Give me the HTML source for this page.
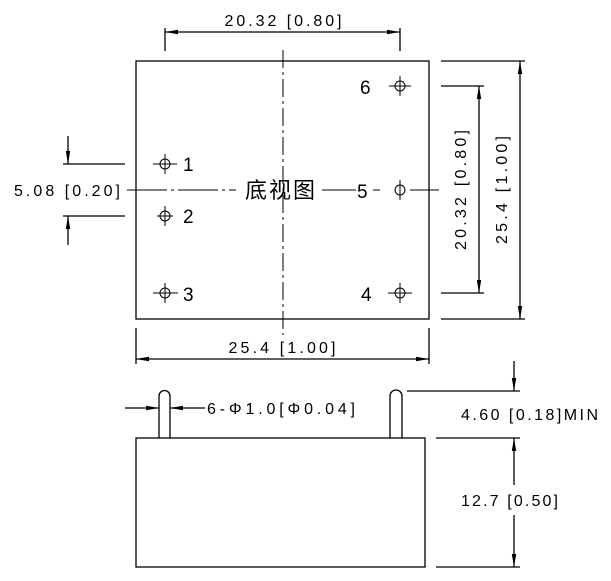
<!DOCTYPE html>
<html><head><meta charset="utf-8"><style>
html,body{margin:0;padding:0;background:#fff}
svg{display:block}
text{font-family:"Liberation Sans","Noto Sans CJK SC",sans-serif;font-size:16px;fill:#000}
text.n{font-size:19px}
text.c{font-size:22px}
</style></head><body>
<svg width="611" height="581" viewBox="0 0 611 581" xmlns="http://www.w3.org/2000/svg">
<defs>
<marker id="a" markerWidth="13" markerHeight="6" refX="13" refY="3" orient="auto" markerUnits="userSpaceOnUse">
<path d="M0,0.8 L13,3 L0,5.2 z" fill="#000"/></marker>
</defs>
<g stroke="#000" stroke-width="1.3" fill="none">
<rect x="136" y="61" width="293" height="258"/>
<line x1="283" y1="50" x2="283" y2="335" stroke-dasharray="18,4,3,4" stroke-width="1"/>
<line x1="127" y1="190" x2="236" y2="190" stroke-dasharray="40,4,3,4" stroke-width="1"/>
<line x1="322" y1="190" x2="356" y2="190" stroke-width="1"/>
<line x1="373" y1="190" x2="380" y2="190" stroke-width="1"/>
<line x1="410" y1="190" x2="439" y2="190" stroke-width="1"/>
<line x1="165" y1="28" x2="165" y2="51"/>
<line x1="400" y1="28" x2="400" y2="51"/>
<line x1="283" y1="32" x2="165" y2="32" marker-end="url(#a)"/>
<line x1="283" y1="32" x2="400" y2="32" marker-end="url(#a)"/>
<line x1="63" y1="164" x2="125" y2="164"/>
<line x1="63" y1="216" x2="125" y2="216"/>
<line x1="68" y1="136" x2="68" y2="164" marker-end="url(#a)"/>
<line x1="68" y1="245" x2="68" y2="216" marker-end="url(#a)"/>
<line x1="441" y1="86" x2="484" y2="86"/>
<line x1="441" y1="293" x2="484" y2="293"/>
<line x1="479" y1="190" x2="479" y2="86" marker-end="url(#a)"/>
<line x1="479" y1="190" x2="479" y2="293" marker-end="url(#a)"/>
<line x1="441" y1="61" x2="525" y2="61"/>
<line x1="441" y1="319" x2="525" y2="319"/>
<line x1="520" y1="190" x2="520" y2="61" marker-end="url(#a)"/>
<line x1="520" y1="190" x2="520" y2="319" marker-end="url(#a)"/>
<line x1="136" y1="328" x2="136" y2="364"/>
<line x1="429" y1="328" x2="429" y2="364"/>
<line x1="283" y1="359" x2="136" y2="359" marker-end="url(#a)"/>
<line x1="283" y1="359" x2="429" y2="359" marker-end="url(#a)"/>
<g stroke-width="1">
<circle cx="165" cy="164" r="5"/><line x1="153" y1="164" x2="177" y2="164"/><line x1="165" y1="154" x2="165" y2="174"/>
<circle cx="165" cy="216" r="5"/><line x1="157" y1="216" x2="173" y2="216"/><line x1="165" y1="206" x2="165" y2="226"/>
<circle cx="165" cy="293" r="5"/><line x1="153" y1="293" x2="178" y2="293"/><line x1="165" y1="283" x2="165" y2="303"/>
<circle cx="400" cy="86" r="5"/><line x1="389" y1="86" x2="411" y2="86"/><line x1="400" y1="76" x2="400" y2="96"/>
<circle cx="400" cy="190" r="5"/><line x1="400" y1="180" x2="400" y2="200"/>
<circle cx="400" cy="293" r="5"/><line x1="388" y1="293" x2="412" y2="293"/><line x1="400" y1="283" x2="400" y2="303"/>
</g>
<rect x="136" y="438" width="289" height="129"/>
<path d="M159,438 V396 A5.5,5.5 0 0 1 170,396 V438"/>
<path d="M390,438 V396 A6,6 0 0 1 402,396 V438"/>
<line x1="125" y1="408" x2="159" y2="408" marker-end="url(#a)"/>
<line x1="205" y1="408" x2="170" y2="408" marker-end="url(#a)"/>
<line x1="407" y1="391" x2="520" y2="391"/>
<line x1="436" y1="438" x2="520" y2="438"/>
<line x1="436" y1="567" x2="520" y2="567"/>
<line x1="514" y1="361" x2="514" y2="391" marker-end="url(#a)"/>
<line x1="514" y1="485" x2="514" y2="438" marker-end="url(#a)"/>
<line x1="514" y1="515" x2="514" y2="567" marker-end="url(#a)"/>
</g>
<text x="283" y="26" text-anchor="middle" textLength="117">20.32 [0.80]</text>
<text x="14" y="196" textLength="106">5.08 [0.20]</text>
<text class="c" x="245" y="198" textLength="70">底视图</text>
<text class="n" x="183" y="171">1</text>
<text class="n" x="183" y="223">2</text>
<text class="n" x="183" y="301">3</text>
<text class="n" x="360" y="94">6</text>
<text class="n" x="357" y="198">5</text>
<text class="n" x="361" y="301">4</text>
<text transform="translate(466,190) rotate(-90)" text-anchor="middle" textLength="120">20.32 [0.80]</text>
<text transform="translate(507,190) rotate(-90)" text-anchor="middle" textLength="108">25.4 [1.00]</text>
<text x="282" y="353" text-anchor="middle" textLength="107">25.4 [1.00]</text>
<text x="207" y="414" textLength="148">6-Φ1.0[Φ0.04]</text>
<text x="461" y="420" textLength="137">4.60 [0.18]MIN</text>
<text x="461" y="506" textLength="97">12.7 [0.50]</text>
</svg>
</body></html>
